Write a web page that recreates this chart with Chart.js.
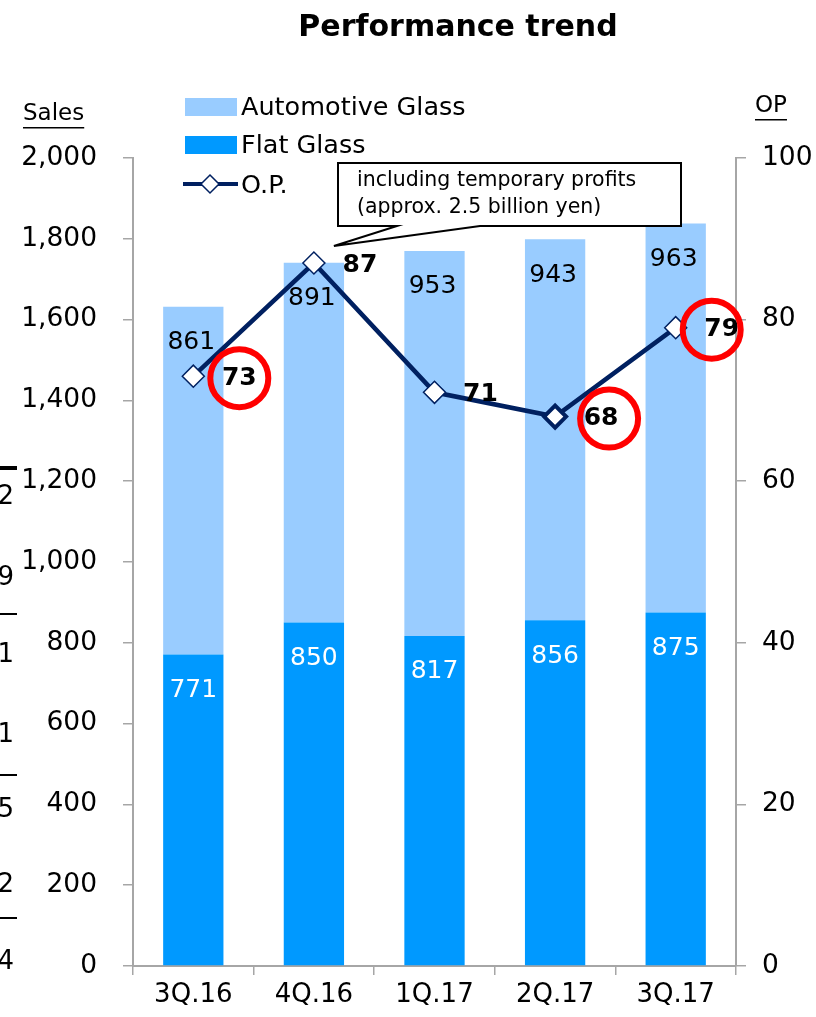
<!DOCTYPE html>
<html>
<head>
<meta charset="utf-8">
<script src="https://cdn.jsdelivr.net/npm/chart.js@4/dist/chart.umd.min.js"></script>
<style>
  html, body { margin: 0; padding: 0; background: #ffffff; }
  #wrap { position: relative; width: 816px; height: 1017px; }
</style>
</head>
<body>
<div id="wrap"><canvas id="c" width="816" height="1017"></canvas></div>
<script>
// ---- data ----
const categories = ['3Q.16', '4Q.16', '1Q.17', '2Q.17', '3Q.17'];
const flatGlass = [771, 850, 817, 856, 875];
const automotiveGlass = [861, 891, 953, 943, 963];
const operatingProfit = [73, 87, 71, 68, 79];
const highlighted = ['3Q.16', '2Q.17', '3Q.17'];
const seriesNames = ['Automotive Glass', 'Flat Glass', 'O.P.'];
const chartTitle = 'Performance trend';
const leftAxisTitle = 'Sales';
const rightAxisTitle = 'OP';
const calloutLines = ['including temporary profits', '(approx. 2.5 billion yen)'];
const sideFragments = ['2', '9', '1', '1', '5', '2', '4'];

const FONT = '"DejaVu Sans", Verdana, sans-serif';
const COL_AUTO = '#99CCFF';
const COL_FLAT = '#0099FF';
const COL_LINE = '#002060';
const COL_AXIS = '#A6A6A6';

const overlay = {
  id: 'overlay',
  afterDatasetsDraw(chart) {
    const ctx = chart.ctx;
    const metaFlat = chart.getDatasetMeta(1);
    const metaAuto = chart.getDatasetMeta(2);
    ctx.save();
    ctx.textAlign = 'center';
    ctx.textBaseline = 'middle';
    ctx.font = '25px ' + FONT;
    metaFlat.data.forEach((bar, i) => {
      ctx.fillStyle = '#ffffff';
      ctx.fillText(String(flatGlass[i]), bar.x, bar.y + 36);
    });
    metaAuto.data.forEach((bar, i) => {
      ctx.fillStyle = '#000000';
      ctx.fillText(String(automotiveGlass[i]), bar.x - 2, bar.y + 36);
    });
    ctx.restore();
  },
  afterDraw(chart) {
    const ctx = chart.ctx;
    const metaOp = chart.getDatasetMeta(0);
    ctx.save();
    // OP value labels
    ctx.textAlign = 'center';
    ctx.textBaseline = 'middle';
    ctx.font = 'bold 25px ' + FONT;
    ctx.fillStyle = '#000000';
    const circleDx = {'3Q.16': 0, '2Q.17': 8, '3Q.17': -10};
    metaOp.data.forEach((pt, i) => {
      const lx = pt.x + 46, ly = pt.y + 2;
      ctx.fillText(String(operatingProfit[i]), lx, ly);
      if (highlighted.includes(categories[i])) {
        ctx.beginPath();
        ctx.strokeStyle = '#FF0000';
        ctx.lineWidth = 6;
        ctx.arc(lx + circleDx[categories[i]], ly, 29, 0, Math.PI * 2);
        ctx.stroke();
      }
    });

    // title
    ctx.font = 'bold 30px ' + FONT;
    ctx.fillStyle = '#000000';
    ctx.fillText(chartTitle, 458, 28);

    // axis titles (underlined)
    ctx.font = '23px ' + FONT;
    ctx.textAlign = 'left';
    ctx.fillText(leftAxisTitle, 23, 114);
    let w = ctx.measureText(leftAxisTitle).width;
    ctx.fillRect(23, 127, w, 1.5);
    ctx.fillText(rightAxisTitle, 755, 106);
    w = ctx.measureText(rightAxisTitle).width;
    ctx.fillRect(755, 119, w, 1.5);

    // legend
    ctx.font = '25.5px ' + FONT;
    ctx.textBaseline = 'middle';
    ctx.fillStyle = COL_AUTO;
    ctx.fillRect(185, 98, 52, 18);
    ctx.fillStyle = COL_FLAT;
    ctx.fillRect(185, 136, 52, 18);
    ctx.strokeStyle = COL_LINE;
    ctx.lineWidth = 4;
    ctx.beginPath(); ctx.moveTo(183, 184); ctx.lineTo(238, 184); ctx.stroke();
    ctx.beginPath();
    ctx.moveTo(210, 175); ctx.lineTo(219, 184); ctx.lineTo(210, 193); ctx.lineTo(201, 184); ctx.closePath();
    ctx.fillStyle = '#ffffff'; ctx.fill();
    ctx.lineWidth = 1.5; ctx.stroke();
    ctx.fillStyle = '#000000';
    ctx.fillText(seriesNames[0], 241, 108);
    ctx.fillText(seriesNames[1], 241, 146);
    ctx.fillText(seriesNames[2], 241, 186);

    // callout box anchored to 4Q.16 point
    const p = metaOp.data[1];
    const tipX = p.x + 20, tipY = p.y - 17;
    const bx = 338, by = 163, bw = 343, bh = 63;
    ctx.beginPath();
    ctx.moveTo(bx, by);
    ctx.lineTo(bx + bw, by);
    ctx.lineTo(bx + bw, by + bh);
    ctx.lineTo(480, by + bh);
    ctx.lineTo(tipX, tipY);
    ctx.lineTo(397, by + bh);
    ctx.lineTo(bx, by + bh);
    ctx.closePath();
    ctx.fillStyle = '#ffffff';
    ctx.fill();
    ctx.strokeStyle = '#000000';
    ctx.lineWidth = 2;
    ctx.stroke();
    ctx.fillStyle = '#000000';
    ctx.font = '20.5px ' + FONT;
    ctx.textAlign = 'left';
    ctx.fillText(calloutLines[0], 357, 181);
    ctx.fillText(calloutLines[1], 357, 208);

    // cut-off fragments at left edge
    ctx.font = '26px ' + FONT;
    ctx.textAlign = 'right';
    const fy = [497, 578, 655, 735, 810, 885, 962];
    sideFragments.forEach((s, i) => ctx.fillText(s, 14, fy[i]));
    ctx.fillRect(0, 466, 17, 4);
    [613, 774, 917].forEach(y => ctx.fillRect(0, y, 17, 2));
    ctx.restore();
  }
};

new Chart(document.getElementById('c'), {
  data: {
    labels: categories,
    datasets: [
      {
        type: 'line',
        label: seriesNames[2],
        data: operatingProfit,
        yAxisID: 'y1',
        borderColor: COL_LINE,
        borderWidth: 4.5,
        pointStyle: 'rectRot',
        pointRadius: 11,
        pointHoverRadius: 11,
        pointBackgroundColor: '#ffffff',
        pointBorderColor: COL_LINE,
        pointBorderWidth: [1.5, 1.5, 1.5, 4, 1.5],
        tension: 0,
        order: 0
      },
      {
        type: 'bar',
        label: seriesNames[1],
        data: flatGlass,
        backgroundColor: COL_FLAT,
        yAxisID: 'y',
        stack: 's',
        order: 1
      },
      {
        type: 'bar',
        label: seriesNames[0],
        data: automotiveGlass,
        backgroundColor: COL_AUTO,
        yAxisID: 'y',
        stack: 's',
        order: 1
      }
    ]
  },
  options: {
    responsive: false,
    animation: false,
    devicePixelRatio: 1,
    layout: { padding: { top: 158, left: 0, right: 0, bottom: 0 } },
    datasets: { bar: { barPercentage: 0.5, categoryPercentage: 1.0 } },
    plugins: {
      legend: { display: false },
      title: { display: false },
      tooltip: { enabled: false }
    },
    scales: {
      x: {
        stacked: true,
        offset: true,
        grid: { offset: true, drawOnChartArea: false, drawTicks: true, tickLength: 9, color: COL_AXIS, lineWidth: 1.5 },
        border: { color: COL_AXIS, width: 2 },
        ticks: { color: '#000000', font: { family: FONT, size: 26 }, padding: 5 },
        afterFit(s) { s.height = 51; }
      },
      y: {
        position: 'left',
        stacked: true,
        min: 0, max: 2000,
        ticks: { stepSize: 200, color: '#000000', font: { family: FONT, size: 26.5 }, padding: 26 },
        grid: { drawOnChartArea: false, drawTicks: true, tickLength: 10, color: COL_AXIS, lineWidth: 1.5 },
        border: { color: COL_AXIS, width: 2 },
        afterFit(s) { s.width = 133; }
      },
      y1: {
        position: 'right',
        min: 0, max: 100,
        ticks: { stepSize: 20, color: '#000000', font: { family: FONT, size: 26.5 }, padding: 16 },
        grid: { drawOnChartArea: false, drawTicks: true, tickLength: 10, color: COL_AXIS, lineWidth: 1.5 },
        border: { color: COL_AXIS, width: 2 },
        afterFit(s) { s.width = 80; }
      }
    }
  },
  plugins: [overlay]
});
</script>
</body>
</html>
